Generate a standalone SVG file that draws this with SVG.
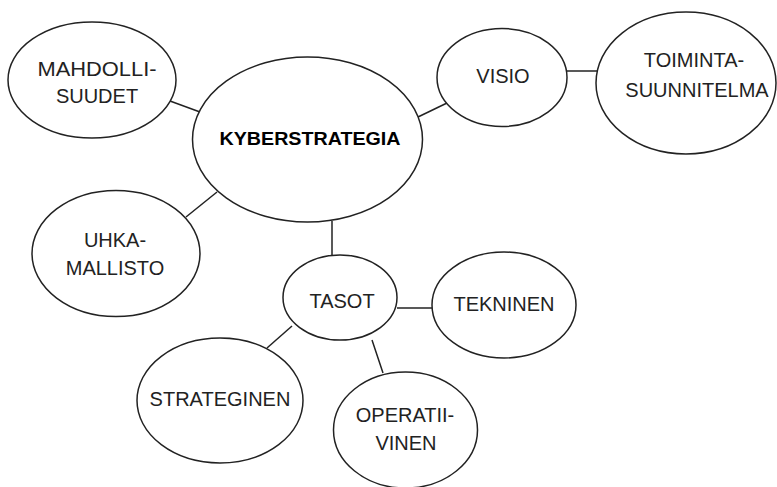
<svg xmlns="http://www.w3.org/2000/svg" width="777" height="487" viewBox="0 0 777 487">
<style>
.n{fill:#fff;stroke:#222;stroke-width:1.5}
.c{stroke:#222;stroke-width:1.5;fill:none}
.t{font-family:"Liberation Sans",Arial,sans-serif;font-size:20px;fill:#222;text-anchor:middle}
.b{font-weight:bold;font-size:19px;fill:#000}
</style>
<rect width="777" height="487" fill="#fff"/>
<g id="connectors">
<line class="c" x1="170" y1="101" x2="200" y2="112"/>
<line class="c" x1="418" y1="117" x2="447" y2="103"/>
<line class="c" x1="567" y1="71" x2="597" y2="71"/>
<line class="c" x1="217" y1="192" x2="186" y2="217"/>
<line class="c" x1="332" y1="221" x2="332" y2="256"/>
<line class="c" x1="397" y1="308" x2="432" y2="308"/>
<line class="c" x1="292" y1="326" x2="267" y2="348"/>
<line class="c" x1="372" y1="340" x2="383" y2="373"/>
</g>
<g id="mahdollisuudet">
<ellipse class="n" cx="92" cy="80" rx="84" ry="58"/>
<text class="t" x="97" y="76" textLength="119" lengthAdjust="spacingAndGlyphs">MAHDOLLI-</text>
<text class="t" x="97" y="103">SUUDET</text>
</g>
<g id="kyberstrategia">
<ellipse class="n" cx="307.5" cy="139.5" rx="115" ry="82.5"/>
<text class="t b" x="310" y="145" textLength="181" lengthAdjust="spacingAndGlyphs">KYBERSTRATEGIA</text>
</g>
<g id="visio">
<ellipse class="n" cx="502" cy="77.5" rx="65" ry="49"/>
<text class="t" x="503" y="83">VISIO</text>
</g>
<g id="toimintasuunnitelma">
<ellipse class="n" cx="686" cy="83" rx="90" ry="71"/>
<text class="t" x="694" y="67">TOIMINTA-</text>
<text class="t" x="697" y="97">SUUNNITELMA</text>
</g>
<g id="uhkamallisto">
<ellipse class="n" cx="116" cy="253.5" rx="84" ry="63"/>
<text class="t" x="115" y="247">UHKA-</text>
<text class="t" x="115" y="275">MALLISTO</text>
</g>
<g id="tasot">
<ellipse class="n" cx="340" cy="297.5" rx="57" ry="42.5"/>
<text class="t" x="342" y="308">TASOT</text>
</g>
<g id="tekninen">
<ellipse class="n" cx="504" cy="305" rx="72" ry="53"/>
<text class="t" x="504" y="311">TEKNINEN</text>
</g>
<g id="strateginen">
<ellipse class="n" cx="220" cy="400.5" rx="83" ry="62.5"/>
<text class="t" x="220" y="406">STRATEGINEN</text>
</g>
<g id="operatiivinen">
<ellipse class="n" cx="405.5" cy="430" rx="72" ry="58"/>
<text class="t" x="405" y="422">OPERATII-</text>
<text class="t" x="406" y="450">VINEN</text>
</g>
</svg>
